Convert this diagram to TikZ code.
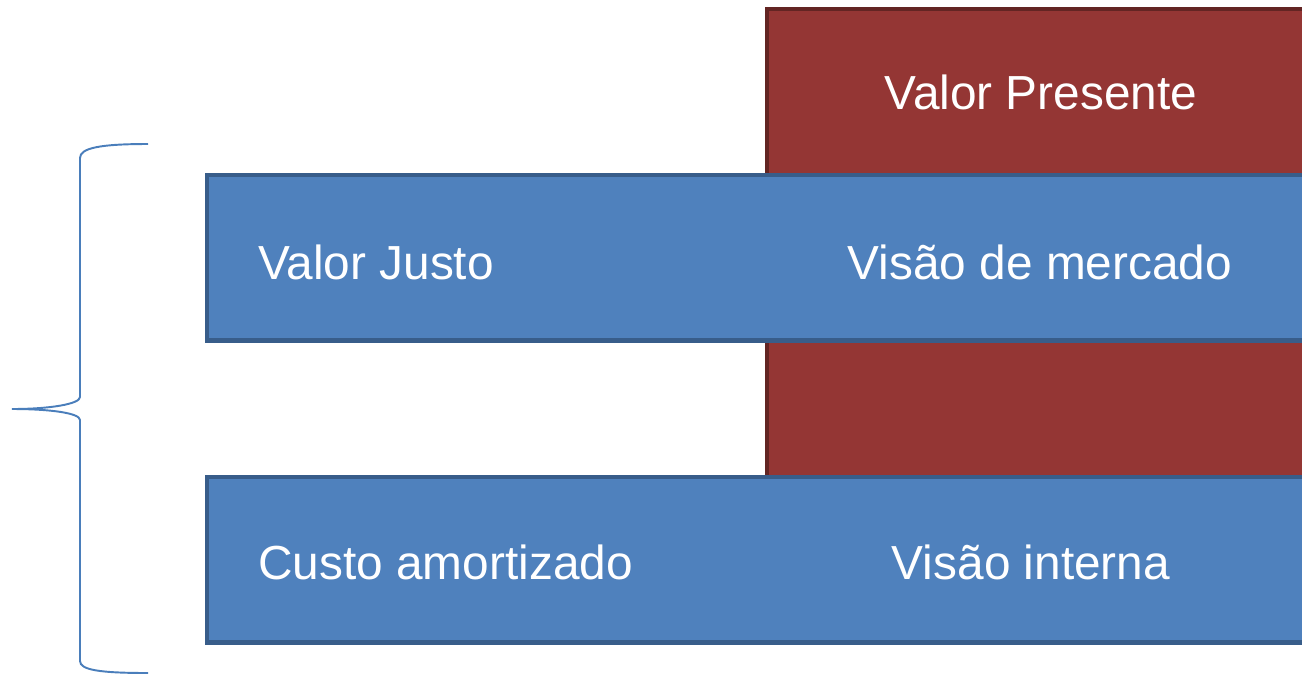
\documentclass[tikz,border=0pt]{standalone}
\usepackage{fontspec}
\setmainfont{Liberation Sans}
\usepackage{tikz}

\begin{document}
\begin{tikzpicture}
		[x=0.02cm,y=-0.02cm,line cap=butt,
		%Styles
		bar/.style={draw=barborder,fill=barfill,line width=2.5pt,inner sep=0pt,anchor=north west},
		present box/.style={draw=presentborder,fill=presentfill,line width=2.5pt,inner sep=0pt,anchor=north west},
		bar text/.style={text=white,inner sep=0pt,font=\fontsize{27.2}{32}\selectfont},
		brace line/.style={draw=bracecolor,line width=1.1pt}
		]
		
		%Colors
		\definecolor{barfill}{HTML}{4F81BD}
		\definecolor{barborder}{HTML}{385D8A}
		\definecolor{presentfill}{HTML}{943634}
		\definecolor{presentborder}{HTML}{632523}
		\definecolor{bracecolor}{HTML}{4A7EBB}
		
		\useasboundingbox (0,0) rectangle (1302,674);
		\clip (0,0) rectangle (1302,674);
		
		%The graphic
		\node[present box,minimum width=11.5cm,minimum height=12.6cm] (present) at (765,7) {};
		\node[bar,minimum width=22.5cm,minimum height=3.31cm] (fair) at (205,173) {};
		\node[bar,minimum width=22.5cm,minimum height=3.31cm] (amort) at (205,475) {};
		
		\node[bar text] (presentlabel) at (1041,92) {Valor Presente};
		\node[bar text,anchor=west] (fairlabel) at (258,262) {Valor Justo};
		\node[bar text] (marketlabel) at (1040,262) {Visão de mercado};
		\node[bar text,anchor=west] (amortlabel) at (258,562) {Custo amortizado};
		\node[bar text] (internallabel) at (1031,562) {Visão interna};
		
		%Brace
		\coordinate (bracetop) at (148,144);
		\coordinate (bracemid) at (12,409);
		\coordinate (bracebot) at (148,673);
		\draw[brace line] (bracetop) .. controls (100,144) and (80,148) .. (80,158) -- (80,397)
			.. controls (80,404) and (50,409) .. (bracemid)
			.. controls (50,409) and (80,413) .. (80,420) -- (80,661)
			.. controls (80,670) and (100,673) .. (bracebot);
	\end{tikzpicture}
\end{document}
